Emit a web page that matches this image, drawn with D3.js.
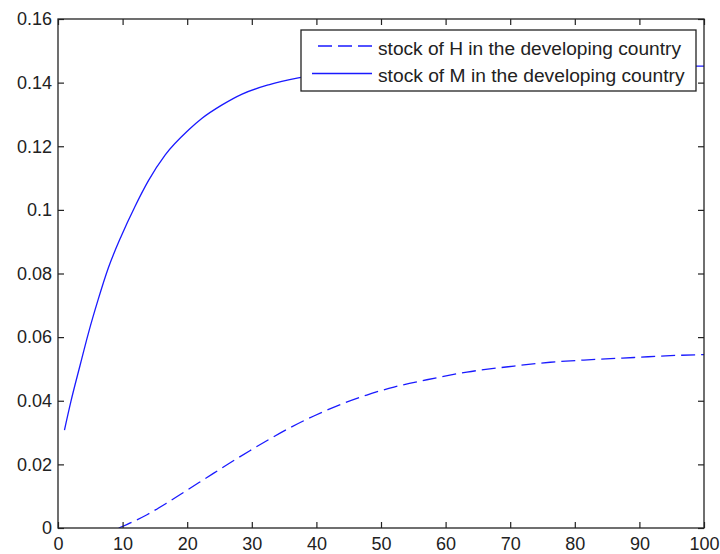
<!DOCTYPE html>
<html>
<head>
<meta charset="utf-8">
<script src="https://cdn.jsdelivr.net/npm/d3@7"></script>
<style>
  html, body { margin: 0; padding: 0; background: #fff; }
  svg { display: block; }
  text { font-family: "Liberation Sans", Arial, sans-serif; fill: #222; }
</style>
</head>
<body>
<div id="chart"></div>
<script>
// stock of M (solid)
const mX = [1, 2, 3.4, 4.7, 6.2, 7.8, 9.8, 11.9, 14, 16.6, 20.2, 22.3, 25.4, 28.5, 32.6, 37.2, 45, 55, 65, 80, 100];
const mY = [0.0308, 0.0398, 0.051, 0.0612, 0.0717, 0.0818, 0.0918, 0.101, 0.1092, 0.1173, 0.1251, 0.1288, 0.133, 0.1364, 0.1393, 0.1415, 0.1436, 0.1446, 0.145, 0.1452, 0.1452];

// stock of H (dashed)
const hX = [9.4, 13.7, 16.8, 19.9, 23, 26.1, 29.7, 32.8, 35.9, 39.6, 44.2, 47.8, 52, 57.1, 63.3, 70.6, 76.2, 81.4, 89.2, 96.4, 100];
const hY = [0, 0.0041, 0.0078, 0.0118, 0.0158, 0.0198, 0.0243, 0.028, 0.0315, 0.0352, 0.0392, 0.0418, 0.0443, 0.0466, 0.049, 0.0509, 0.0521, 0.0528, 0.0536, 0.0543, 0.0545];

const xTicks = [0, 10, 20, 30, 40, 50, 60, 70, 80, 90, 100];
const yTicks = [0, 0.02, 0.04, 0.06, 0.08, 0.1, 0.12, 0.14, 0.16];
const seriesNames = ['stock of H in the developing country', 'stock of M in the developing country'];

const width = 720, height = 554;
const margin = { top: 19, right: 16, bottom: 26, left: 58 };
const innerW = width - margin.left - margin.right;
const innerH = height - margin.top - margin.bottom;
const lineColor = '#1a1aff';

const svg = d3.select('#chart').append('svg')
  .attr('width', width).attr('height', height);

const g = svg.append('g')
  .attr('transform', `translate(${margin.left},${margin.top})`);

const x = d3.scaleLinear().domain([0, 100]).range([0, innerW]);
const y = d3.scaleLinear().domain([0, 0.16]).range([innerH, 0]);

// clip so the curves stay inside the box
g.append('clipPath').attr('id', 'clip')
  .append('rect').attr('width', innerW).attr('height', innerH);

const line = d3.line()
  .x(d => x(d[0]))
  .y(d => y(d[1]))
  .curve(d3.curveMonotoneX);

const plot = g.append('g').attr('clip-path', 'url(#clip)');

plot.append('path')
  .datum(d3.zip(hX, hY))
  .attr('d', line)
  .attr('fill', 'none')
  .attr('stroke', lineColor)
  .attr('stroke-width', 1.3)
  .attr('stroke-dasharray', '14,6');

plot.append('path')
  .datum(d3.zip(mX, mY))
  .attr('d', line)
  .attr('fill', 'none')
  .attr('stroke', lineColor)
  .attr('stroke-width', 1.3);

// axes, matlab style: ticks inward on all four sides
const tickLen = 6;
const fmtY = d => d === 0 ? '0' : String(+d.toFixed(2));

const axB = g.append('g').attr('transform', `translate(0,${innerH})`)
  .call(d3.axisBottom(x).tickValues(xTicks).tickSizeInner(-tickLen).tickSizeOuter(0).tickFormat(d3.format('d')));
const axT = g.append('g')
  .call(d3.axisTop(x).tickValues(xTicks).tickSizeInner(-tickLen).tickSizeOuter(0).tickFormat(''));
const axL = g.append('g')
  .call(d3.axisLeft(y).tickValues(yTicks).tickSizeInner(-tickLen).tickSizeOuter(0).tickPadding(6).tickFormat(fmtY));
const axR = g.append('g').attr('transform', `translate(${innerW},0)`)
  .call(d3.axisRight(y).tickValues(yTicks).tickSizeInner(-tickLen).tickSizeOuter(0).tickFormat(''));

[axB, axT, axL, axR].forEach(a => {
  a.select('.domain').remove();
  a.selectAll('line').attr('stroke', '#222').attr('stroke-width', 1.2);
  a.selectAll('text').style('font-size', '18px').style('fill', '#222')
    .attr('font-family', null);
});
axB.selectAll('text').attr('dy', null).attr('y', 22.3);

// box
g.append('rect')
  .attr('x', 0).attr('y', 0).attr('width', innerW).attr('height', innerH)
  .attr('fill', 'none').attr('stroke', '#222').attr('stroke-width', 1.3);

// legend
const legend = svg.append('g').attr('transform', 'translate(301,30)');
legend.append('rect')
  .attr('width', 395).attr('height', 61)
  .attr('fill', '#fff').attr('stroke', '#222').attr('stroke-width', 1.3);

const items = legend.selectAll('g.item').data(seriesNames).join('g')
  .attr('class', 'item')
  .attr('transform', (d, i) => `translate(0,${16 + i * 27.5})`);

items.append('line')
  .attr('x1', (d, i) => i === 0 ? 17 : 11).attr('x2', 71)
  .attr('stroke', lineColor).attr('stroke-width', 1.3)
  .attr('stroke-dasharray', (d, i) => i === 0 ? '14,6' : null);

items.append('text')
  .attr('x', 77).attr('y', 8.5)
  .attr('textLength', (d, i) => i === 0 ? 303 : 306.5)
  .attr('lengthAdjust', 'spacingAndGlyphs')
  .style('font-size', '17.5px')
  .text(d => d);
</script>
</body>
</html>
